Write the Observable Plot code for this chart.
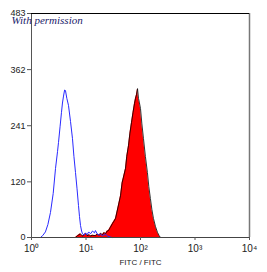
<!DOCTYPE html>
<html>
<head>
<meta charset="utf-8">
<script src="https://cdn.jsdelivr.net/npm/d3@7"></script>
<script src="https://cdn.jsdelivr.net/npm/@observablehq/plot@0.6"></script>
<style>
  html, body { margin: 0; padding: 0; background: #fff; }
</style>
</head>
<body>
<div id="chart"></div>
<script>
// Blue (control) histogram, FITC intensity vs count
const blueX = [1.46, 1.6, 1.8, 2.0, 2.23, 2.5, 2.76, 3.0, 3.13, 3.35, 3.55, 3.7, 3.87, 4.05, 4.2, 4.45, 4.77, 5.2, 5.65, 6.0, 6.42, 6.85, 7.28, 7.6, 7.93, 8.3, 8.63, 9.2, 9.8, 10.5, 11.2, 12.1, 13.2, 14.3, 14.9, 16, 17.2, 18.5, 20, 22.8, 25, 28, 30];
const blueY = [0, 4, 12, 28, 54, 95, 149, 185, 205, 240, 270, 290, 305, 318, 317, 300, 285, 250, 213, 175, 140, 105, 69, 45, 26, 14, 8, 5, 10, 6, 12, 8, 14, 10, 15, 8, 5, 7, 4, 7, 3, 1, 0];
// Red (stained) histogram
const redX = [6.4, 7.0, 7.9, 8.6, 9.3, 9.8, 10.5, 11.5, 12.1, 13, 14.9, 16, 17.5, 18.5, 20, 21.5, 22.8, 24.5, 25.9, 28, 30.6, 32.5, 34.8, 37, 39.5, 43, 46, 48.7, 53.1, 56, 60.2, 64, 68.4, 73, 77.6, 81, 84.5, 88.2, 91.9, 95, 100, 106, 113.5, 123, 134, 142, 152, 162, 173, 188, 205, 220, 233];
const redY = [0, 4, 8, 3, 6, 9, 4, 6, 3, 5, 4, 7, 5, 9, 6, 11, 8, 14, 15, 22, 30, 35, 41, 55, 70, 90, 118, 130, 149, 175, 198, 225, 248, 270, 289, 300, 308, 321, 300, 292, 278, 245, 213, 175, 140, 110, 84, 60, 41, 24, 11, 4, 0];
// Axis ticks
const xTicks = [1, 10, 100, 1000, 10000];
const xTickLabels = ["10⁰", "10¹", "10²", "10³", "10⁴"];
const yTicks = [0, 120, 241, 362, 483];
const xLabel = "FITC / FITC";
const note = "With permission";

const blue = blueX.map((x, i) => ({x, y: blueY[i]}));
const red = redX.map((x, i) => ({x, y: redY[i]}));

const chart = Plot.plot({
  width: 267,
  height: 272,
  marginLeft: 31,
  marginRight: 18,
  marginTop: 13,
  marginBottom: 35,
  style: {fontFamily: "'Liberation Sans', Arial, sans-serif", fontSize: "9px", background: "#fff", color: "#222"},
  x: {type: "log", domain: [1, 10000]},
  y: {domain: [0, 483]},
  marks: [
    Plot.areaY(red, {x: "x", y: "y", fill: "#ff0000", curve: "linear"}),
    Plot.lineY(red, {x: "x", y: "y", stroke: "#000", strokeWidth: 0.8}),
    Plot.lineY(blue, {x: "x", y: "y", stroke: "#2a2aff", strokeWidth: 1}),
    Plot.ruleX([1], {stroke: "#555", strokeWidth: 1}),
    Plot.ruleX([10000], {stroke: "#777", strokeWidth: 1.5}),
    Plot.ruleY([483], {stroke: "#000", strokeWidth: 1}),
    Plot.ruleY([0], {stroke: "#444", strokeWidth: 1}),
    Plot.axisY({ticks: yTicks, tickSize: 4, tickPadding: 2, stroke: "#555", label: null, tickFormat: d => String(d)}),
    Plot.axisX({ticks: xTicks, tickSize: 3, tickPadding: 4, stroke: "#555", label: null, tickFormat: d => xTickLabels[xTicks.indexOf(d)], fontSize: 10}),
    Plot.text([xLabel], {frameAnchor: "bottom", dy: 27, fontSize: 8, fill: "#222"}),
    Plot.text([note], {frameAnchor: "top-left", dx: -20, dy: 3, textAnchor: "start", fontSize: 11, fontStyle: "italic", fontFamily: "'Liberation Serif', 'Times New Roman', serif", fill: "#1a1a6a"})
  ]
});
document.getElementById("chart").appendChild(chart);
</script>
</body>
</html>
